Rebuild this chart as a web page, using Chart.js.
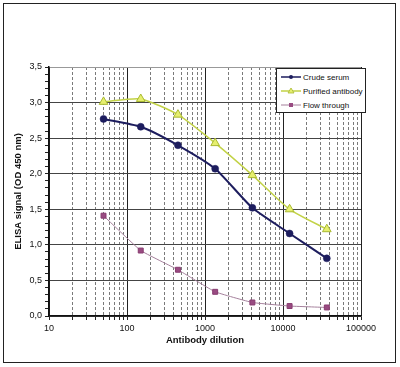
<!DOCTYPE html>
<html>
<head>
<meta charset="utf-8">
<script src="https://cdn.jsdelivr.net/npm/chart.js@4/dist/chart.umd.min.js"></script>
<style>
  body { margin: 0; background: #fff; font-family: "Liberation Sans", Arial, sans-serif; }
  #wrap { position: relative; width: 400px; height: 367px; }
  #frame { position: absolute; left: 3px; top: 3px; width: 391px; height: 358px; border: 1px solid #222; pointer-events: none; }
  #legend { position: absolute; left: 276px; top: 68px; width: 88px; height: 42px; border: 1px solid #222; background: #fff;
            font-size: 8px; color: #111; padding-top: 1px; box-sizing: content-box; }
  #legend .row { height: 14px; display: flex; align-items: center; white-space: nowrap; }
  #legend svg { margin: 0 2px 0 4px; }
</style>
</head>
<body>
<div id="wrap">
  <canvas id="myChart" width="400" height="367"></canvas>
  <div id="frame"></div>
  <div id="legend"></div>
</div>
<script>
// dilution points (x) and readings (y)
const dilutions = [50, 150, 450, 1350, 4050, 12150, 36450];
const crudeSerum = [2.77, 2.66, 2.40, 2.07, 1.52, 1.16, 0.81];
const purifiedAntibody = [3.01, 3.05, 2.83, 2.43, 1.98, 1.50, 1.22];
const flowThrough = [1.41, 0.92, 0.65, 0.34, 0.19, 0.14, 0.12];

const xMajorTicks = [10, 100, 1000, 10000, 100000];
const yLabelTicks = [0, 0.5, 1, 1.5, 2, 2.5, 3, 3.5];

// minor grid positions for the log axis: 2..9 in every decade
const xTickValues = [];
xMajorTicks.forEach((d, i) => {
    xTickValues.push(d);
    if (i < xMajorTicks.length - 1) {
        for (let m = 2; m <= 9; m++) xTickValues.push(d * m);
    }
});
const yTickValues = [];
for (let i = 0; i <= 35; i++) yTickValues.push(i / 10);

const isXMajor = v => xMajorTicks.some(t => Math.abs(t - v) < 1e-6);
const isYLabel = v => yLabelTicks.some(t => Math.abs(t - v) < 1e-6);
const toPoints = values => dilutions.map((d, i) => ({ x: d, y: values[i] }));

const datasets = [
    {
        label: 'Crude serum',
        data: toPoints(crudeSerum),
        borderColor: '#1d1d5e',
        borderWidth: 2,
        pointStyle: 'circle',
        pointRadius: 3.5,
        pointBorderWidth: 0.5,
        pointBackgroundColor: '#1d1d5e',
        pointBorderColor: '#1d1d5e',
        tension: 0.2
    },
    {
        label: 'Purified antibody',
        data: toPoints(purifiedAntibody),
        borderColor: '#c2d246',
        borderWidth: 1.5,
        pointStyle: 'triangle',
        pointRadius: 5,
        pointBackgroundColor: '#e6ef6e',
        pointBorderColor: '#a9b932',
        pointBorderWidth: 1,
        tension: 0.2
    },
    {
        label: 'Flow through',
        data: toPoints(flowThrough),
        borderColor: '#a5809c',
        borderWidth: 1,
        pointStyle: 'rect',
        pointRadius: 3.5,
        pointBackgroundColor: '#994b82',
        pointBorderColor: '#883c70',
        pointBorderWidth: 1,
        tension: 0.1
    }
];

const ctx = document.getElementById('myChart').getContext('2d');
const chart = new Chart(ctx, {
    type: 'line',
    data: { datasets },
    options: {
        responsive: false,
        animation: false,
        layout: { padding: { top: 67, right: 39, bottom: 17, left: 0 } },
        plugins: {
            legend: { display: false },
            tooltip: { enabled: false }
        },
        scales: {
            x: {
                type: 'logarithmic',
                min: 10,
                max: 100000,
                afterBuildTicks: axis => {
                    axis.ticks = xTickValues.map(v => ({ value: v, major: isXMajor(v) }));
                },
                afterFit: axis => { axis.height = 34; },
                ticks: {
                    autoSkip: false,
                    maxRotation: 0,
                    color: '#111',
                    font: { family: '"Liberation Sans", Arial', size: 9 },
                    padding: 3,
                    callback: v => isXMajor(v) ? String(v) : ''
                },
                grid: {
                    color: c => c.tick && isXMajor(c.tick.value) ? '#222' : '#7a7a7a',
                    lineWidth: 1,
                    tickLength: 4,
                    tickColor: '#222'
                },
                border: {
                    color: '#111',
                    width: 1.5,
                    dash: c => c.tick && !isXMajor(c.tick.value) ? [3, 2] : []
                },
                title: {
                    display: true,
                    text: 'Antibody dilution',
                    color: '#111',
                    font: { family: '"Liberation Sans", Arial', size: 9.5, weight: 'bold' },
                    padding: { top: 0, bottom: 4 }
                }
            },
            y: {
                min: 0,
                max: 3.5,
                afterBuildTicks: axis => {
                    axis.ticks = yTickValues.map(v => ({ value: v }));
                },
                afterFit: axis => { axis.width = 49; },
                ticks: {
                    autoSkip: false,
                    color: '#111',
                    font: { family: '"Liberation Sans", Arial', size: 9 },
                    padding: 3,
                    callback: v => isYLabel(v) ? v.toFixed(1).replace('.', ',') : ''
                },
                grid: {
                    color: c => c.tick && isYLabel(c.tick.value) ? (c.tick.value === 3.5 ? '#999' : '#444') : 'rgba(0,0,0,0)',
                    lineWidth: 1,
                    tickLength: 4,
                    tickColor: '#222'
                },
                border: { color: '#111', width: 1.5 },
                title: {
                    display: true,
                    text: 'ELISA signal (OD 450 nm)',
                    color: '#111',
                    font: { family: '"Liberation Sans", Arial', size: 9.5, weight: 'bold' },
                    padding: { top: 13, bottom: 0 }
                }
            }
        }
    }
});

// legend box drawn in HTML, built from the chart's datasets
const legendEl = document.getElementById('legend');
chart.data.datasets.forEach(ds => {
    let marker = '';
    if (ds.pointStyle === 'circle') {
        marker = `<circle cx="10" cy="5" r="2" fill="${ds.pointBackgroundColor}"/>`;
    } else if (ds.pointStyle === 'triangle') {
        marker = `<polygon points="10,2 13,7 7,7" fill="${ds.pointBackgroundColor}" stroke="${ds.pointBorderColor}" stroke-width="0.8"/>`;
    } else {
        marker = `<rect x="8" y="3" width="4" height="4" fill="${ds.pointBackgroundColor}"/>`;
    }
    const row = document.createElement('div');
    row.className = 'row';
    row.innerHTML = `<svg width="20" height="10"><line x1="0" y1="5" x2="20" y2="5" stroke="${ds.borderColor}" stroke-width="${Math.min(ds.borderWidth, 1.5)}"/>${marker}</svg><span>${ds.label}</span>`;
    legendEl.appendChild(row);
});
</script>
</body>
</html>
